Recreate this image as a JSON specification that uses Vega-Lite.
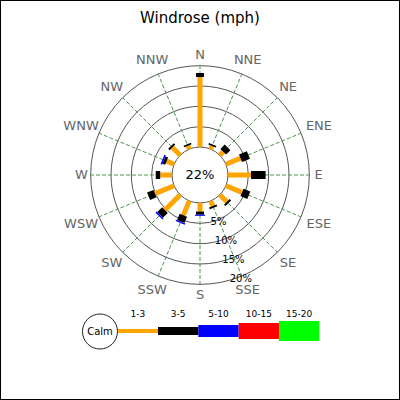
{
  "$schema": "https://vega.github.io/schema/vega-lite/v6.json",
  "description": "Windrose (mph): share of time per direction and wind speed class",
  "autosize": "none",
  "width": 400,
  "height": 400,
  "padding": 0,
  "background": "white",
  "title": {
    "text": "Windrose (mph)",
    "fontSize": 15,
    "fontWeight": "normal",
    "color": "black",
    "anchor": "middle",
    "frame": "group",
    "baseline": "alphabetic",
    "offset": 0,
    "dy": 38
  },
  "config": {
    "font": "DejaVu Sans",
    "view": {"stroke": "black", "strokeWidth": 2}
  },
  "datasets": {
    "dirs": [
      {"dir": "N", "deg": 0}, {"dir": "NNE", "deg": 22.5}, {"dir": "NE", "deg": 45}, {"dir": "ENE", "deg": 67.5},
      {"dir": "E", "deg": 90}, {"dir": "ESE", "deg": 112.5}, {"dir": "SE", "deg": 135}, {"dir": "SSE", "deg": 157.5},
      {"dir": "S", "deg": 180}, {"dir": "SSW", "deg": 202.5}, {"dir": "SW", "deg": 225}, {"dir": "WSW", "deg": 247.5},
      {"dir": "W", "deg": 270}, {"dir": "WNW", "deg": 292.5}, {"dir": "NW", "deg": 315}, {"dir": "NNW", "deg": 337.5}
    ],
    "bars": [
      {"dir": "N", "deg": 0, "bin": "1-3", "pct": 17.2},
      {"dir": "N", "deg": 0, "bin": "3-5", "pct": 1.0},
      {"dir": "NNE", "deg": 22.5, "bin": "1-3", "pct": 0.85},
      {"dir": "NNE", "deg": 22.5, "bin": "3-5", "pct": 0.4},
      {"dir": "NE", "deg": 45, "bin": "1-3", "pct": 1.2},
      {"dir": "NE", "deg": 45, "bin": "3-5", "pct": 1.5},
      {"dir": "ENE", "deg": 67.5, "bin": "1-3", "pct": 3.9},
      {"dir": "ENE", "deg": 67.5, "bin": "3-5", "pct": 2.1},
      {"dir": "E", "deg": 90, "bin": "1-3", "pct": 5.65},
      {"dir": "E", "deg": 90, "bin": "3-5", "pct": 3.6},
      {"dir": "ESE", "deg": 112.5, "bin": "1-3", "pct": 4.3},
      {"dir": "ESE", "deg": 112.5, "bin": "3-5", "pct": 1.8},
      {"dir": "SE", "deg": 135, "bin": "1-3", "pct": 2.45},
      {"dir": "SE", "deg": 135, "bin": "3-5", "pct": 0.5},
      {"dir": "SSE", "deg": 157.5, "bin": "1-3", "pct": 1.35},
      {"dir": "SSE", "deg": 157.5, "bin": "3-5", "pct": 0.5},
      {"dir": "S", "deg": 180, "bin": "1-3", "pct": 2.1},
      {"dir": "S", "deg": 180, "bin": "3-5", "pct": 0.75},
      {"dir": "S", "deg": 180, "bin": "5-10", "pct": 0.3},
      {"dir": "SSW", "deg": 202.5, "bin": "1-3", "pct": 3.8},
      {"dir": "SSW", "deg": 202.5, "bin": "3-5", "pct": 1.7},
      {"dir": "SSW", "deg": 202.5, "bin": "5-10", "pct": 0.35},
      {"dir": "SW", "deg": 225, "bin": "1-3", "pct": 5.3},
      {"dir": "SW", "deg": 225, "bin": "3-5", "pct": 1.7},
      {"dir": "SW", "deg": 225, "bin": "5-10", "pct": 0.4},
      {"dir": "WSW", "deg": 247.5, "bin": "1-3", "pct": 5.1},
      {"dir": "WSW", "deg": 247.5, "bin": "3-5", "pct": 1.7},
      {"dir": "W", "deg": 270, "bin": "1-3", "pct": 2.9},
      {"dir": "W", "deg": 270, "bin": "3-5", "pct": 1.1},
      {"dir": "WNW", "deg": 292.5, "bin": "1-3", "pct": 2.0},
      {"dir": "WNW", "deg": 292.5, "bin": "3-5", "pct": 0.7},
      {"dir": "WNW", "deg": 292.5, "bin": "5-10", "pct": 0.4},
      {"dir": "NW", "deg": 315, "bin": "1-3", "pct": 2.7},
      {"dir": "NW", "deg": 315, "bin": "3-5", "pct": 0.5},
      {"dir": "NNW", "deg": 337.5, "bin": "1-3", "pct": 0.9},
      {"dir": "NNW", "deg": 337.5, "bin": "3-5", "pct": 0.4}
    ],
    "rings": [{"pct": 0}, {"pct": 5}, {"pct": 10}, {"pct": 15}, {"pct": 20}],
    "bins": [{"bin": "1-3"}, {"bin": "3-5"}, {"bin": "5-10"}, {"bin": "10-15"}, {"bin": "15-20"}],
    "calm": [{"calm": 0.22}]
  },
  "layer": [
    {
      "layer": [
        {
          "data": {"name": "rings"},
          "transform": [{"calculate": "datum.pct + 6.885", "as": "u"}],
          "mark": {"type": "arc", "theta": 0, "theta2": 6.2832, "fill": "transparent", "stroke": "#555555", "strokeWidth": 1},
          "encoding": {
            "x": {"datum": 0, "type": "quantitative", "scale": {"domain": [-49.18, 49.18], "nice": false, "zero": false}, "axis": null},
            "y": {"datum": 0, "type": "quantitative", "scale": {"domain": [-55.32, 43.03], "nice": false, "zero": false}, "axis": null},
            "radius": {"field": "u", "type": "quantitative", "stack": null, "scale": {"type": "linear", "domain": [0, 49.18], "range": [0, 200], "zero": true}}
          }
        },
        {
          "data": {"name": "dirs"},
          "transform": [
            {"calculate": "datum.deg * PI / 180", "as": "a"},
            {"calculate": "6.885 * sin(datum.a)", "as": "gx0"},
            {"calculate": "6.885 * cos(datum.a)", "as": "gy0"},
            {"calculate": "26.885 * sin(datum.a)", "as": "gx1"},
            {"calculate": "26.885 * cos(datum.a)", "as": "gy1"}
          ],
          "mark": {"type": "rule", "color": "#4f944f", "strokeWidth": 1, "strokeDash": [4, 2]},
          "encoding": {
            "x": {"field": "gx0", "type": "quantitative"},
            "y": {"field": "gy0", "type": "quantitative"},
            "x2": {"field": "gx1"},
            "y2": {"field": "gy1"}
          }
        },
        {
          "data": {"name": "bars"},
          "transform": [
            {"stack": "pct", "groupby": ["dir"], "as": ["p0", "p1"]},
            {"calculate": "datum.deg * PI / 180", "as": "a"},
            {"calculate": "(datum.p0 + 6.885) * sin(datum.a)", "as": "bx0"},
            {"calculate": "(datum.p0 + 6.885) * cos(datum.a)", "as": "by0"},
            {"calculate": "(datum.p1 + 6.885) * sin(datum.a)", "as": "bx1"},
            {"calculate": "(datum.p1 + 6.885) * cos(datum.a)", "as": "by1"}
          ],
          "mark": {"type": "rule", "strokeCap": "butt"},
          "encoding": {
            "x": {"field": "bx0", "type": "quantitative"},
            "y": {"field": "by0", "type": "quantitative"},
            "x2": {"field": "bx1"},
            "y2": {"field": "by1"},
            "color": {
              "field": "bin", "type": "nominal", "legend": null,
              "scale": {"domain": ["1-3", "3-5", "5-10", "10-15", "15-20"], "range": ["#ffa500", "#000000", "#0000ff", "#ff0000", "#00ff00"]}
            },
            "strokeWidth": {
              "field": "bin", "type": "ordinal", "legend": null,
              "scale": {"type": "ordinal", "domain": ["1-3", "3-5", "5-10", "10-15", "15-20"], "range": [5, 8, 10, 12, 14]}
            }
          }
        },
        {
          "data": {"name": "calm"},
          "mark": {"type": "text", "fontSize": 13, "color": "black", "align": "center", "baseline": "middle"},
          "encoding": {
            "x": {"datum": 0, "type": "quantitative"},
            "y": {"datum": 0, "type": "quantitative"},
            "text": {"field": "calm", "type": "quantitative", "format": ".0%"}
          }
        },
        {
          "data": {"name": "rings"},
          "transform": [
            {"filter": "datum.pct > 0"},
            {"calculate": "datum.pct + '%'", "as": "lab"},
            {"calculate": "158.5 * PI / 180", "as": "a"},
            {"calculate": "(datum.pct + 7.4) * sin(datum.a)", "as": "lx"},
            {"calculate": "(datum.pct + 7.4) * cos(datum.a)", "as": "ly"}
          ],
          "mark": {"type": "text", "fontSize": 10, "color": "black", "align": "center", "baseline": "middle"},
          "encoding": {
            "x": {"field": "lx", "type": "quantitative"},
            "y": {"field": "ly", "type": "quantitative"},
            "text": {"field": "lab"}
          }
        },
        {
          "data": {"name": "dirs"},
          "transform": [
            {"calculate": "datum.deg * PI / 180", "as": "a"},
            {"calculate": "(114 + length(datum.dir) * 4.5 * abs(sin(datum.a)) + 6 * abs(cos(datum.a))) / 4.067", "as": "lr"},
            {"calculate": "datum.lr * sin(datum.a)", "as": "lx"},
            {"calculate": "datum.lr * cos(datum.a)", "as": "ly"}
          ],
          "mark": {"type": "text", "fontSize": 13, "color": "#666666", "align": "center", "baseline": "middle"},
          "encoding": {
            "x": {"field": "lx", "type": "quantitative"},
            "y": {"field": "ly", "type": "quantitative"},
            "text": {"field": "dir"}
          }
        }
      ]
    },
    {
      "data": {"name": "bins"},
      "layer": [
        {
          "mark": {"type": "rule", "strokeCap": "butt"},
          "encoding": {
            "x": {
              "field": "bin", "type": "ordinal", "bandPosition": 0, "axis": null,
              "scale": {"type": "band", "domain": ["Calm", "1-3", "3-5", "5-10", "10-15", "15-20"], "range": [77.4, 319.3], "paddingInner": 0, "paddingOuter": 0}
            },
            "x2": {"field": "bin", "bandPosition": 1},
            "y": {"datum": -38.36, "type": "quantitative"},
            "color": {"field": "bin", "type": "nominal", "legend": null},
            "strokeWidth": {
              "field": "bin", "type": "ordinal", "legend": null,
              "scale": {"type": "ordinal", "domain": ["1-3", "3-5", "5-10", "10-15", "15-20"], "range": [4, 8, 12, 16, 20]}
            }
          }
        },
        {
          "mark": {"type": "text", "fontSize": 9, "color": "black", "align": "center", "baseline": "middle"},
          "encoding": {
            "x": {"field": "bin", "type": "ordinal"},
            "y": {"datum": -34.18, "type": "quantitative"},
            "text": {"field": "bin"}
          }
        },
        {
          "data": {"name": "calm"},
          "mark": {"type": "arc", "radius": 17.5, "theta": 0, "theta2": 6.2832, "fill": "white", "stroke": "#222222", "strokeWidth": 1},
          "encoding": {
            "x": {"datum": "Calm", "type": "ordinal", "bandPosition": 0.56},
            "y": {"datum": -38.48, "type": "quantitative"}
          }
        },
        {
          "data": {"name": "calm"},
          "mark": {"type": "text", "fontSize": 10, "color": "black", "align": "center", "baseline": "middle", "text": "Calm"},
          "encoding": {
            "x": {"datum": "Calm", "type": "ordinal", "bandPosition": 0.56},
            "y": {"datum": -38.48, "type": "quantitative"}
          }
        }
      ]
    }
  ],
  "resolve": {"scale": {"x": "independent", "strokeWidth": "independent"}}
}
